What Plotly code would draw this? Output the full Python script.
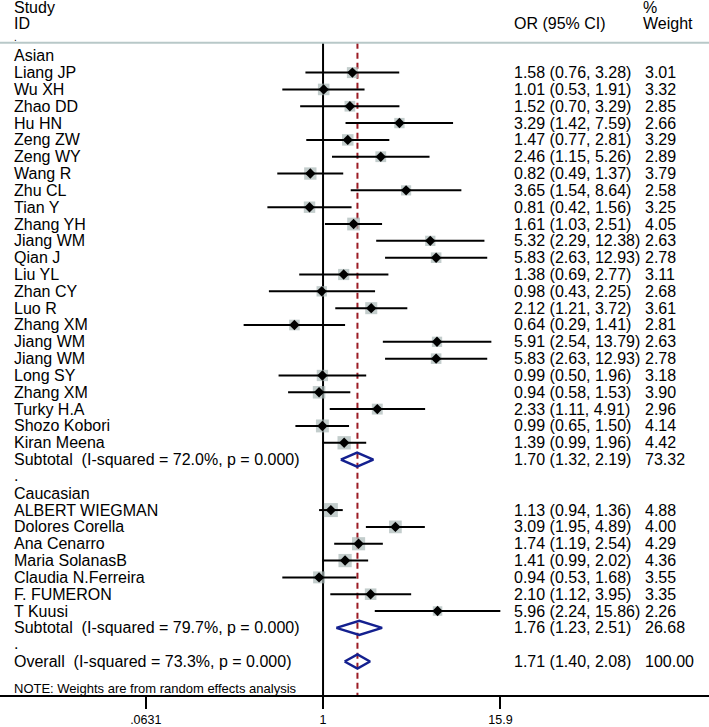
import plotly.graph_objects as go

# ---------------- data ----------------
asian_ids = ["Liang JP", "Wu XH", "Zhao DD", "Hu HN", "Zeng ZW", "Zeng WY", "Wang R",
             "Zhu CL", "Tian Y", "Zhang YH", "Jiang WM", "Qian J", "Liu YL", "Zhan CY",
             "Luo R", "Zhang XM", "Jiang WM", "Jiang WM", "Long SY", "Zhang XM",
             "Turky H.A", "Shozo Kobori", "Kiran Meena"]
asian_or = [1.58, 1.01, 1.52, 3.29, 1.47, 2.46, 0.82, 3.65, 0.81, 1.61, 5.32, 5.83, 1.38,
            0.98, 2.12, 0.64, 5.91, 5.83, 0.99, 0.94, 2.33, 0.99, 1.39]
asian_lo = [0.76, 0.53, 0.70, 1.42, 0.77, 1.15, 0.49, 1.54, 0.42, 1.03, 2.29, 2.63, 0.69,
            0.43, 1.21, 0.29, 2.54, 2.63, 0.50, 0.58, 1.11, 0.65, 0.99]
asian_hi = [3.28, 1.91, 3.29, 7.59, 2.81, 5.26, 1.37, 8.64, 1.56, 2.51, 12.38, 12.93, 2.77,
            2.25, 3.72, 1.41, 13.79, 12.93, 1.96, 1.53, 4.91, 1.50, 1.96]
asian_w = [3.01, 3.32, 2.85, 2.66, 3.29, 2.89, 3.79, 2.58, 3.25, 4.05, 2.63, 2.78, 3.11,
           2.68, 3.61, 2.81, 2.63, 2.78, 3.18, 3.90, 2.96, 4.14, 4.42]
asian_sub = {"label": "Subtotal  (I-squared = 72.0%, p = 0.000)", "or": 1.70, "lo": 1.32, "hi": 2.19, "w": 73.32}

cauc_ids = ["ALBERT WIEGMAN", "Dolores Corella", "Ana Cenarro", "Maria SolanasB",
            "Claudia N.Ferreira", "F. FUMERON", "T Kuusi"]
cauc_or = [1.13, 3.09, 1.74, 1.41, 0.94, 2.10, 5.96]
cauc_lo = [0.94, 1.95, 1.19, 0.99, 0.53, 1.12, 2.24]
cauc_hi = [1.36, 4.89, 2.54, 2.02, 1.68, 3.95, 15.86]
cauc_w = [4.88, 4.00, 4.29, 4.36, 3.55, 3.35, 2.26]
cauc_sub = {"label": "Subtotal  (I-squared = 79.7%, p = 0.000)", "or": 1.76, "lo": 1.23, "hi": 2.51, "w": 26.68}

overall = {"label": "Overall  (I-squared = 73.3%, p = 0.000)", "or": 1.71, "lo": 1.40, "hi": 2.08, "w": 100.00}

groups = [("Asian", asian_ids, asian_or, asian_lo, asian_hi, asian_w, asian_sub),
          ("Caucasian", cauc_ids, cauc_or, cauc_lo, cauc_hi, cauc_w, cauc_sub)]

tick_vals = [0.0631, 1, 15.9]
tick_text = [".0631", "1", "15.9"]
note = "NOTE: Weights are from random effects analysis"

# ---------------- styling ----------------
W, H = 709, 727
FONT = "Liberation Sans, Arial, sans-serif"
FS = 16
BOX_COLOR = "#a9b8b7"
DIAMOND_COLOR = "#14208f"
DASH_COLOR = "#9b1b24"
X_ID = 12 / W
X_OR = 512 / W
X_WT = 643 / W

annotations = []


def txt(x, y, s, size=FS):
    annotations.append(dict(x=x, y=y, xref="paper", yref="y", text=s.replace("  ", "\u00a0 "),
                            showarrow=False, xanchor="left", yanchor="middle",
                            font=dict(family=FONT, size=size, color="black")))


fig = go.Figure()

# header
txt(X_ID, -2.88, "Study")
txt(X_ID, -1.9, "ID")
txt(X_ID, -1.08, ".", size=10)
txt(X_OR, -1.9, "OR (95% CI)")
txt(X_WT - 2 / W, -2.88, "%")
txt(X_WT - 2 / W, -1.9, "Weight")

row = 0
ci_x, ci_y = [], []
pt_x, pt_y, box_s = [], [], []
dia_x, dia_y = [], []
H_DIA = 0.42


def add_diamond(r, d):
    dia_x.extend([d["lo"], d["or"], d["hi"], d["or"], d["lo"], None])
    dia_y.extend([r, r - H_DIA, r, r + H_DIA, r, None])
    txt(X_ID, r, d["label"])
    txt(X_OR, r, f'{d["or"]:.2f} ({d["lo"]:.2f}, {d["hi"]:.2f})')
    txt(X_WT, r, f'{d["w"]:.2f}')


for gi, (gname, ids, ors, los, his, ws, sub) in enumerate(groups):
    txt(X_ID, row, gname)
    row += 1
    for sid, o, lo, hi, w in zip(ids, ors, los, his, ws):
        ci_x.extend([lo, hi, None])
        ci_y.extend([row, row, None])
        pt_x.append(o)
        pt_y.append(row)
        box_s.append(6.34 * w ** 0.5)
        txt(X_ID, row, sid)
        txt(X_OR, row, f"{o:.2f} ({lo:.2f}, {hi:.2f})")
        txt(X_WT, row, f"{w:.2f}")
        row += 1
    add_diamond(row, sub)
    row += 1
    txt(X_ID, row - 0.05, ".")
    row += 1

add_diamond(row, overall)
txt(X_ID, row + 1.6, note, size=13)

TOP = -0.77
BOTTOM = 37.99
TOPROW = -3.314

# reference lines
fig.add_trace(go.Scatter(x=[1, 1], y=[TOP, BOTTOM + 1], mode="lines",
                         line=dict(color="black", width=2), hoverinfo="skip"))
fig.add_trace(go.Scatter(x=[overall["or"], overall["or"]], y=[TOP, BOTTOM + 1], mode="lines",
                         line=dict(color=DASH_COLOR, width=2, dash="6px,4px"), hoverinfo="skip"))
# boxes
fig.add_trace(go.Scatter(x=pt_x, y=pt_y, mode="markers",
                         marker=dict(symbol="square", size=box_s, color=BOX_COLOR, line=dict(width=0)),
                         hoverinfo="skip"))
# CI lines
fig.add_trace(go.Scatter(x=ci_x, y=ci_y, mode="lines",
                         line=dict(color="black", width=2), hoverinfo="skip"))
# points
fig.add_trace(go.Scatter(x=pt_x, y=pt_y, mode="markers",
                         marker=dict(symbol="diamond", size=8, color="black", line=dict(width=0)),
                         hoverinfo="skip"))
# pooled diamonds
fig.add_trace(go.Scatter(x=dia_x, y=dia_y, mode="lines",
                         line=dict(color=DIAMOND_COLOR, width=2.5), hoverinfo="skip"))

fig.update_layout(
    width=W, height=H,
    margin=dict(l=0, r=0, t=0, b=29),
    paper_bgcolor="white", plot_bgcolor="white",
    showlegend=False,
    annotations=annotations,
    shapes=[dict(type="line", xref="paper", yref="y", x0=0, x1=1, y0=TOP, y1=TOP,
                 line=dict(color="#b8c8c8", width=2))],
    xaxis=dict(type="log", range=[-2.187, 2.613], showgrid=False, zeroline=False,
               showline=True, linecolor="black", linewidth=2,
               ticks="outside", ticklen=12, tickwidth=2, tickcolor="black",
               tickvals=tick_vals, ticktext=tick_text,
               tickfont=dict(family=FONT, size=12.5, color="black")),
    yaxis=dict(range=[BOTTOM, TOPROW], showgrid=False, zeroline=False, showticklabels=False,
               showline=False, ticks=""),
)

fig.write_html("out.html", config={"displayModeBar": False},
               post_script="document.body.style.margin='0';document.body.style.overflow='hidden';")
